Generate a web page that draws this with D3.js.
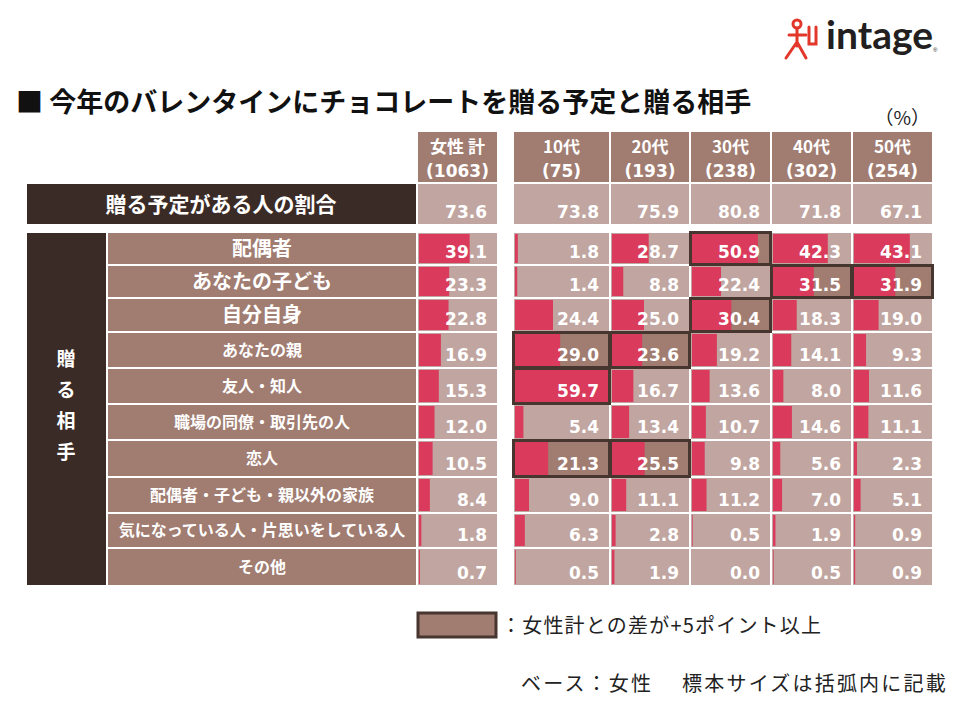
<!DOCTYPE html>
<html>
<head>
<meta charset="utf-8">
<script src="https://cdn.jsdelivr.net/npm/d3@7"></script>
<style>
  body { margin: 0; background: #ffffff; }
  svg { display: block; }
  .jp { font-family: "Noto Sans CJK JP", "Noto Sans", sans-serif; }
  .num { font-family: "DejaVu Sans", Verdana, sans-serif; font-weight: bold; }
</style>
</head>
<body>
<svg id="chart" width="960" height="720"></svg>
<script>
// data
var groups = ["女性 計", "10代", "20代", "30代", "40代", "50代"];
var sampleSizes = [1063, 75, 193, 238, 302, 254];
var planRate = [73.6, 73.8, 75.9, 80.8, 71.8, 67.1];
var recipients = ["配偶者", "あなたの子ども", "自分自身", "あなたの親", "友人・知人",
                  "職場の同僚・取引先の人", "恋人", "配偶者・子ども・親以外の家族",
                  "気になっている人・片思いをしている人", "その他"];
var womenTotal = [39.1, 23.3, 22.8, 16.9, 15.3, 12.0, 10.5, 8.4, 1.8, 0.7];
var teens      = [1.8, 1.4, 24.4, 29.0, 59.7, 5.4, 21.3, 9.0, 6.3, 0.5];
var twenties   = [28.7, 8.8, 25.0, 23.6, 16.7, 13.4, 25.5, 11.1, 2.8, 1.9];
var thirties   = [50.9, 22.4, 30.4, 19.2, 13.6, 10.7, 9.8, 11.2, 0.5, 0.0];
var forties    = [42.3, 31.5, 18.3, 14.1, 8.0, 14.6, 5.6, 7.0, 1.9, 0.5];
var fifties    = [43.1, 31.9, 19.0, 9.3, 11.6, 11.1, 2.3, 5.1, 0.9, 0.9];
var series = [womenTotal, teens, twenties, thirties, forties, fifties];
var threshold = 5; // +5 points over women total

// layout
var colWidths = [79, 95, 78, 79, 79, 79];
var colGaps = [17, 2, 2, 2, 2];
var rowEdges = [233, 266, 299, 333, 369, 405, 441, 478, 514, 549, 587];
var bigRows = 3; // first rows use bigger labels

var C = {
  dark: "#3b2b27",
  label: "#a17c71",
  cell: "#c1a5a0",
  bar: "#da3a5b",
  border: "#47352f"
};

var svg = d3.select("#chart");

// column x positions
var colX = [];
var x0 = 418;
for (var i = 0; i < colWidths.length; i++) {
  colX.push(x0);
  x0 += colWidths[i] + (colGaps[i] || 0);
}

// title
svg.append("text").attr("class", "jp")
  .attr("x", 16).attr("y", 112)
  .attr("font-size", 27).attr("font-weight", "bold").attr("fill", "#111")
  .text("■ 今年のバレンタインにチョコレートを贈る予定と贈る相手");

svg.append("text").attr("class", "jp")
  .attr("x", 930).attr("y", 125).attr("text-anchor", "end")
  .attr("font-size", 19).attr("fill", "#222")
  .text("（%）");

// logo
var logo = svg.append("g").attr("fill", "none").attr("stroke", "#e2372a")
  .attr("stroke-width", 3).attr("stroke-linecap", "round");
logo.append("circle").attr("cx", 797).attr("cy", 24).attr("r", 4);
logo.append("path").attr("d", "M797 28 L797 46 M789 35 L806 35 M797 42 L786 58 M797 42 L806 58");
logo.append("path").attr("d", "M809 27 L809 44 L816 44 L816 27");
svg.append("text")
  .attr("x", 826).attr("y", 49)
  .attr("font-family", "Lato, 'Open Sans', sans-serif").attr("font-weight", "bold")
  .attr("font-size", 39).attr("fill", "#231f20")
  .text("intage");
svg.append("text")
  .attr("x", 933).attr("y", 52)
  .attr("font-family", "sans-serif").attr("font-size", 6).attr("fill", "#231f20")
  .text("®");

// header
var header = svg.append("g");
groups.forEach(function(g, i) {
  header.append("rect")
    .attr("x", colX[i]).attr("y", 132)
    .attr("width", colWidths[i]).attr("height", 50)
    .attr("fill", C.label);
  header.append("text").attr("class", "jp")
    .attr("x", colX[i] + colWidths[i] / 2).attr("y", 153)
    .attr("text-anchor", "middle").attr("font-size", 17).attr("font-weight", "bold")
    .attr("fill", "#fff").text(g);
  header.append("text").attr("class", "num")
    .attr("x", colX[i] + colWidths[i] / 2).attr("y", 177)
    .attr("text-anchor", "middle").attr("font-size", 17)
    .attr("fill", "#fff").text("(" + sampleSizes[i] + ")");
});

// plan rate row
svg.append("rect").attr("x", 27).attr("y", 184).attr("width", 389).attr("height", 40).attr("fill", C.dark);
svg.append("text").attr("class", "jp")
  .attr("x", 221).attr("y", 212).attr("text-anchor", "middle")
  .attr("font-size", 21).attr("font-weight", "bold").attr("fill", "#fff")
  .text("贈る予定がある人の割合");
planRate.forEach(function(v, i) {
  svg.append("rect")
    .attr("x", colX[i]).attr("y", 184)
    .attr("width", colWidths[i]).attr("height", 40)
    .attr("fill", C.cell);
  svg.append("text").attr("class", "num")
    .attr("x", colX[i] + colWidths[i] - 10).attr("y", 218)
    .attr("text-anchor", "end").attr("font-size", 17).attr("fill", "#fff")
    .text(v.toFixed(1));
});

// recipients block
var blockTop = rowEdges[0], blockBottom = rowEdges[rowEdges.length - 1] - 2;
svg.append("rect").attr("x", 27).attr("y", blockTop).attr("width", 79)
  .attr("height", blockBottom - blockTop).attr("fill", C.dark);
["贈", "る", "相", "手"].forEach(function(ch, k) {
  svg.append("text").attr("class", "jp")
    .attr("x", 66).attr("y", 366 + k * 31).attr("text-anchor", "middle")
    .attr("font-size", 19).attr("font-weight", "bold").attr("fill", "#fff")
    .text(ch);
});

var rows = svg.append("g");
recipients.forEach(function(r, j) {
  var y = rowEdges[j], h = rowEdges[j + 1] - rowEdges[j] - 2;
  rows.append("rect").attr("x", 108).attr("y", y).attr("width", 308).attr("height", h).attr("fill", C.label);
  rows.append("text").attr("class", "jp")
    .attr("x", 262).attr("y", y + h / 2)
    .attr("dy", "0.36em").attr("text-anchor", "middle")
    .attr("font-size", j < bigRows ? 20 : 16).attr("font-weight", "bold").attr("fill", "#fff")
    .text(r);
});

// cells with bars
var borders = [];
series.forEach(function(vals, i) {
  var xs = d3.scaleLinear().domain([0, 61]).range([0, colWidths[i]]);
  vals.forEach(function(v, j) {
    var y = rowEdges[j], h = rowEdges[j + 1] - rowEdges[j] - 2;
    var hi = i > 0 && v - womenTotal[j] >= threshold;
    rows.append("rect")
      .attr("x", colX[i]).attr("y", y).attr("width", colWidths[i]).attr("height", h)
      .attr("fill", hi ? C.label : C.cell);
    rows.append("rect")
      .attr("x", colX[i] + 1).attr("y", y + 1)
      .attr("width", xs(v)).attr("height", h - 2)
      .attr("fill", C.bar);
    rows.append("text").attr("class", "num")
      .attr("x", colX[i] + colWidths[i] - 10).attr("y", y + h - 6)
      .attr("text-anchor", "end").attr("font-size", 17).attr("fill", "#fff")
      .text(v.toFixed(1));
    if (hi) borders.push({x: colX[i], y: y, w: colWidths[i], h: h});
  });
});

svg.append("g").selectAll("rect").data(borders).join("rect")
  .attr("x", function(d) { return d.x - 0.5; })
  .attr("y", function(d) { return d.y - 0.5; })
  .attr("width", function(d) { return d.w + 1; })
  .attr("height", function(d) { return d.h + 1; })
  .attr("fill", "none").attr("stroke", C.border).attr("stroke-width", 3);

// legend
svg.append("rect").attr("x", 418).attr("y", 613).attr("width", 78).attr("height", 24)
  .attr("fill", C.label).attr("stroke", C.border).attr("stroke-width", 3);
svg.append("text").attr("class", "jp")
  .attr("x", 501).attr("y", 633)
  .attr("font-size", 20).attr("letter-spacing", 1.2).attr("fill", "#222")
  .text("：女性計との差が+5ポイント以上");
svg.append("text").attr("class", "jp")
  .attr("x", 521).attr("y", 691)
  .attr("font-size", 20).attr("letter-spacing", 2.2).attr("fill", "#222")
  .text("ベース：女性　 標本サイズは括弧内に記載");
</script>
</body>
</html>
